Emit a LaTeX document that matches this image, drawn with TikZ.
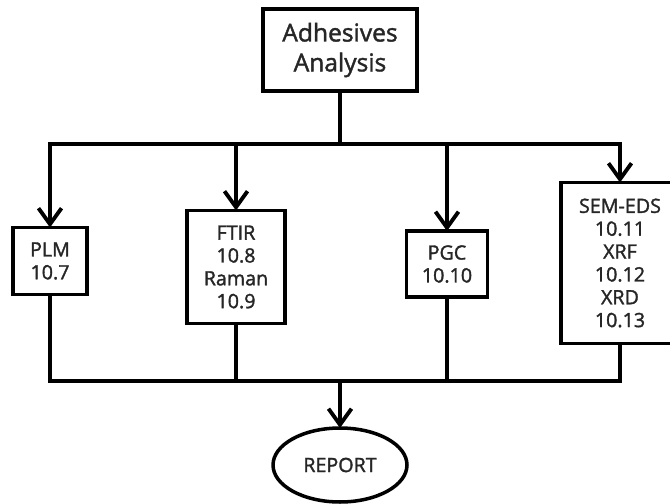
\documentclass[tikz,border=0pt]{standalone}
\usepackage{fontspec}
\setmainfont{Open Sans}
\newfontfamily\semib{Open Sans}[FakeBold=1.6]
\usepackage{xcolor}
\usepackage{tikz}
\usetikzlibrary{arrows.meta, positioning, shapes.geometric}

\begin{document}
\begin{tikzpicture}[
  x=0.02cm,
  y=-0.02cm,
  box/.style={
    draw,
    line width=2pt,
    inner sep=0pt,
    outer sep=0pt,
    align=center,
    text=black!85,
    font=\semib\fontsize{11.2}{13}\selectfont
  },
  line/.style={
    line width=2.2pt
  },
  arr/.style={
    -{Straight Barb[length=3.2mm,width=4.6mm,line width=2.2pt]},
    line width=2.2pt
  }
]
\useasboundingbox (0,0) rectangle (670,504);

% Boxes
\node [box, minimum width=3.08cm, minimum height=1.64cm,
  font=\semib\fontsize{14}{17}\selectfont] (top) at (340,50) {Adhesives\\Analysis};
\node [box, minimum width=1.48cm, minimum height=1.34cm] (plm) at (50,261) {PLM\\10.7};
\node [box, minimum width=1.96cm, minimum height=2.26cm] (ftir) at (236,267) {FTIR\\10.8\\Raman\\10.9};
\node [box, minimum width=1.62cm, minimum height=1.32cm] (pgc) at (447,264) {PGC\\10.10};
\node [box, minimum width=2.36cm, minimum height=3.22cm] (sem) at (620,263) {SEM-EDS\\10.11\\XRF\\10.12\\XRD\\10.13};
\node [box, ellipse, minimum width=2.68cm, minimum height=1.48cm] (report) at (340,465) {REPORT};

% Bus points
\coordinate (split) at (340,144);
\coordinate (join) at (340,381);

% Top to boxes
\draw [line] (top) -- (split);
\draw [arr] (split) -| (plm);
\draw [arr] (split) -| (ftir);
\draw [arr] (split) -| (pgc);
\draw [arr] (split) -| (sem);

% Boxes to report
\draw [line] (plm) |- (join);
\draw [line] (ftir) |- (join);
\draw [line] (pgc) |- (join);
\draw [line] (sem) |- (join);
\draw [arr] (join) -- (report);

\end{tikzpicture}
\end{document}
